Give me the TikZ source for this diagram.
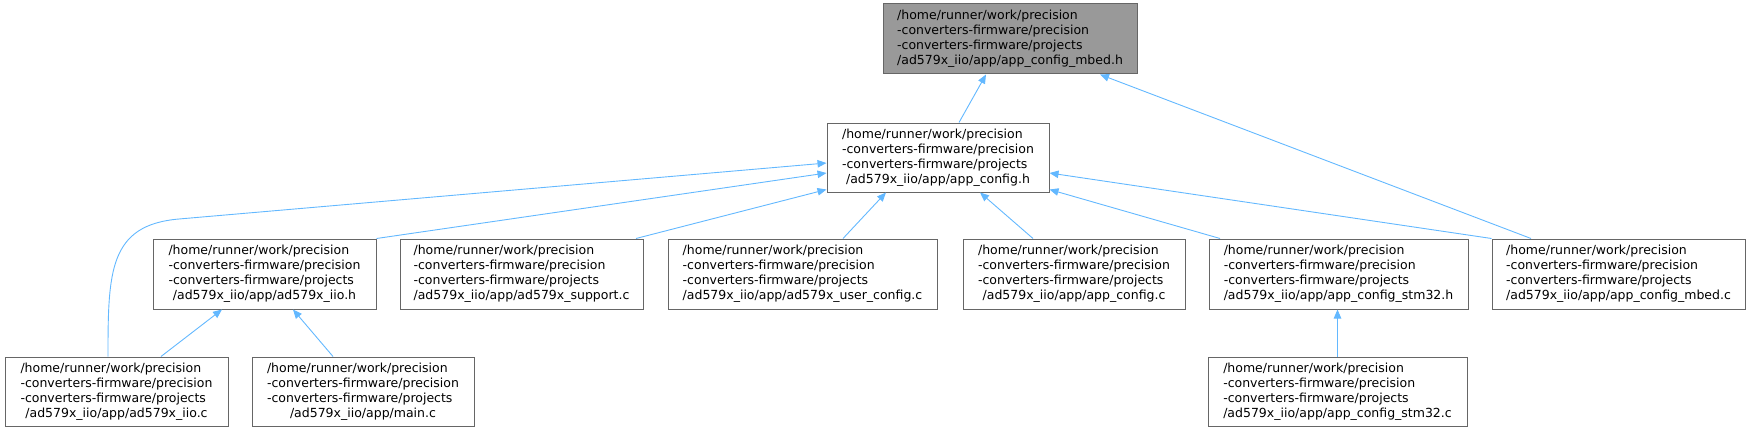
\documentclass[tikz,border=0pt]{standalone}
\usepackage{fontspec}
\setmainfont{DejaVu Sans}
\usetikzlibrary{arrows.meta}
\definecolor{edgeblue}{HTML}{63B8FF}
\definecolor{boxgray}{HTML}{666666}
\definecolor{rootgray}{HTML}{999999}
\newcommand{\pathlabel}[1]{\begin{tabular}{@{}l@{}}/home/runner/work/precision\\
-converters-firmware/precision\\
-converters-firmware/projects\\
\multicolumn{1}{@{}c@{}}{/ad579x\_iio/app/#1}\end{tabular}}
\begin{document}
\begin{tikzpicture}[x=1pt,y=1pt,
  box/.style={draw=boxgray, line width=1pt, fill=white, inner sep=0pt,
    minimum height=70pt, font=\fontsize{12.5}{15}\selectfont},
  edge/.style={draw=edgeblue, line width=0.9pt, -{Triangle[length=9pt,width=7.5pt]}}]
\useasboundingbox (0,0) rectangle (1752,432);
\node[box, fill=rootgray, minimum width=254pt] (A) at (1010,393) {\pathlabel{app\_config\_mbed.h}};
\node[box, minimum width=222pt, minimum height=69pt] (B) at (938,274.5) {\pathlabel{app\_config.h}};
\node[box, minimum width=223pt] (C) at (264.5,158) {\pathlabel{ad579x\_iio.h}};
\node[box, minimum width=243pt] (D) at (521.5,158) {\pathlabel{ad579x\_support.c}};
\node[box, minimum width=269pt] (E) at (802.5,158) {\pathlabel{ad579x\_user\_config.c}};
\node[box, minimum width=222pt] (F) at (1074,158) {\pathlabel{app\_config.c}};
\node[box, minimum width=259pt] (G) at (1338.5,158) {\pathlabel{app\_config\_stm32.h}};
\node[box, minimum width=253pt] (H) at (1618.5,158) {\pathlabel{app\_config\_mbed.c}};
\node[box, minimum width=223pt, minimum height=69pt] (I) at (116.5,40.5) {\pathlabel{ad579x\_iio.c}};
\node[box, minimum width=222pt, minimum height=69pt] (J) at (363,40.5) {\pathlabel{main.c}};
\node[box, minimum width=259pt, minimum height=69pt] (K) at (1337.5,40.5) {\pathlabel{app\_config\_stm32.c}};
\coordinate (bend) at (179,213);
\draw[edge] ([xshift=21pt]B.north) -- ([xshift=-24pt]A.south);
\draw[edge] ([xshift=-87.5pt]H.north) -- ([xshift=90pt]A.south);
\draw[edge] (C.north east) -- ([yshift=-15.5pt]B.west);
\draw[edge] ([xshift=-8.5pt]I.north) .. controls +(0,85) and +(-70,-6) .. (bend) -- ([yshift=-5.5pt]B.west);
\draw[edge] ([xshift=114.5pt]D.north) -- ([yshift=-32pt]B.west);
\draw[edge] ([xshift=40.5pt]E.north) -- ([xshift=-52pt]B.south);
\draw[edge] ([xshift=-41pt]F.north) -- ([xshift=42pt]B.south);
\draw[edge] ([xshift=-118.5pt]G.north) -- ([yshift=-32pt]B.east);
\draw[edge] (H.north west) -- ([yshift=-15.5pt]B.east);
\draw[edge] ([xshift=44.5pt]I.north) -- ([xshift=-42.5pt]C.south);
\draw[edge] ([xshift=-30pt]J.north) -- ([xshift=28.5pt]C.south);
\draw[edge] (K.north) -- (K.north |- G.south);
\end{tikzpicture}
\end{document}
